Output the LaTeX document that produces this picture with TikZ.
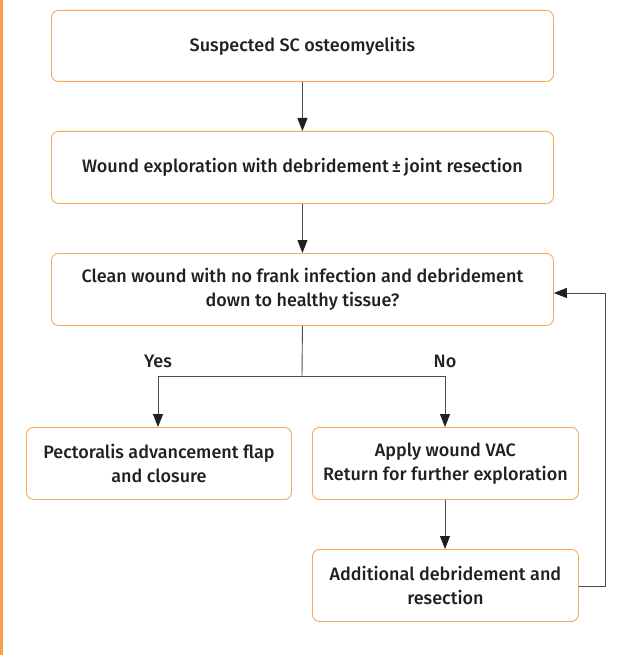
\documentclass[tikz,border=0pt]{standalone}
\usepackage{fontspec}
\setmainfont{Fira Sans}[BoldFont={Fira Sans Medium}]
\usetikzlibrary{arrows.meta}
\definecolor{boxor}{HTML}{F7A957}
\definecolor{sideor}{HTML}{F9A04A}
\definecolor{txt}{HTML}{231F20}
\definecolor{ln}{HTML}{4D4D4D}
\tikzset{
  flowbox/.style={draw=boxor, line width=0.9pt, rounded corners=7pt, inner sep=0pt, anchor=north west, text=txt, font=\fontsize{18}{24}\selectfont\bfseries, align=center},
  conn/.style={draw=ln, line width=0.9pt},
  arr/.style={conn, -{Triangle[length=13pt,width=10pt,color=txt]}},
  lbl/.style={text=txt, font=\fontsize{18}{20}\selectfont\bfseries}
}
\begin{document}
\begin{tikzpicture}[x=1pt,y=-1pt]
\useasboundingbox (0,0) rectangle (622,655);
\fill[sideor] (0,0) rectangle (2.5,655);
\node[flowbox, minimum width=502pt, minimum height=71pt] (b1) at (51,10) {Suspected SC osteomyelitis};
\node[flowbox, minimum width=502pt, minimum height=72pt] (b2) at (51,131) {Wound exploration with debridement\,±\,joint resection};
\node[flowbox, minimum width=502pt, minimum height=72pt] (b3) at (51,253) {Clean wound with no frank infection and debridement\\down to healthy tissue?};
\node[flowbox, minimum width=265pt, minimum height=72pt] (b4) at (26,427) {Pectoralis advancement flap\\and closure};
\node[flowbox, minimum width=266pt, minimum height=72pt] (b5) at (312,427) {Apply wound VAC\\Return for further exploration};
\node[flowbox, minimum width=266pt, minimum height=72pt] (b6) at (312,549) {Additional debridement and\\resection};
\coordinate (j) at (302,376);
\coordinate (jl) at (158,376);
\coordinate (jr) at (445,376);
\coordinate (fb1) at (605,586);
\coordinate (fb2) at (605,293);
\draw[arr] (b1.south) -- (b2.north);
\draw[arr] (b2.south) -- (b3.north);
\draw[conn] (b3.south) -- (j);
\draw[arr] (j) -- (jl) -- (jl |- b4.north);
\draw[arr] (j) -- (jr) -- (jr |- b5.north);
\draw[arr] (b5.south -| jr) -- (b6.north -| jr);
\draw[arr] (b6.east |- fb1) -- (fb1) -- (fb2) -- (b3.east |- fb2);
\node[lbl] (yes) at (158,361) {Yes};
\node[lbl] (no) at (445,361) {No};
\end{tikzpicture}
\end{document}
